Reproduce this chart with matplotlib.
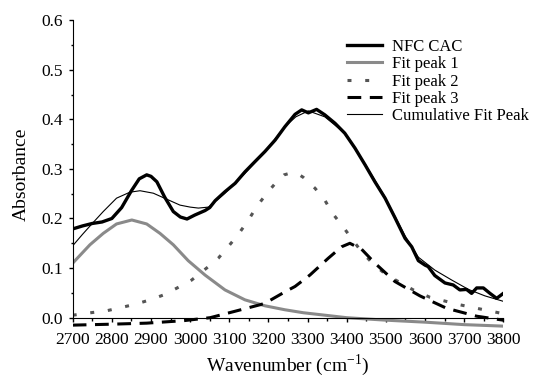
import numpy as np
import matplotlib
matplotlib.use('Agg')
import matplotlib.pyplot as plt
from matplotlib.ticker import MultipleLocator

plt.rcParams['font.family'] = ['Liberation Serif', 'DejaVu Serif']
plt.rcParams['mathtext.fontset'] = 'stix'

# NFC CAC spectrum
w_main = [2700, 2725, 2750, 2775, 2800, 2825, 2850, 2870, 2889, 2900, 2915, 2935,
          2957, 2975, 2992, 3012, 3038, 3050, 3064, 3089, 3115, 3140, 3166, 3191,
          3217, 3242, 3268, 3285, 3302, 3323, 3344, 3370, 3395, 3421, 3447, 3472,
          3498, 3523, 3549, 3566, 3583, 3600, 3608, 3625, 3651, 3672, 3689, 3706,
          3719, 3732, 3749, 3766, 3783, 3800]
a_main = [0.179, 0.185, 0.190, 0.193, 0.200, 0.222, 0.256, 0.280, 0.288, 0.285, 0.274, 0.243,
          0.214, 0.203, 0.199, 0.207, 0.216, 0.222, 0.236, 0.254, 0.271, 0.294, 0.315, 0.335,
          0.358, 0.385, 0.410, 0.419, 0.413, 0.420, 0.409, 0.392, 0.372, 0.342, 0.308, 0.274,
          0.241, 0.202, 0.160, 0.143, 0.115, 0.106, 0.103, 0.085, 0.070, 0.066, 0.056, 0.057,
          0.049, 0.060, 0.060, 0.049, 0.039, 0.049]

# fit peak 1
w_p1 = [2700, 2744, 2778, 2812, 2851, 2889, 2923, 2957, 2995, 3038, 3089, 3140,
        3191, 3242, 3289, 3400, 3500, 3600, 3700, 3800]
a_p1 = [0.110, 0.147, 0.170, 0.189, 0.197, 0.189, 0.170, 0.147, 0.115, 0.086, 0.056, 0.036,
        0.024, 0.016, 0.010, 0.000, -0.005, -0.009, -0.014, -0.017]

# fit peak 2
w_p2 = [2700, 2746, 2787, 2821, 2859, 2898, 2936, 2974, 3004, 3042, 3072, 3097, 3123,
        3149, 3170, 3196, 3221, 3240, 3258, 3275, 3289, 3319, 3344, 3364, 3391, 3412,
        3438, 3468, 3502, 3570, 3613, 3689, 3732, 3800]
a_p2 = [0.005, 0.010, 0.014, 0.020, 0.027, 0.036, 0.047, 0.063, 0.076, 0.100, 0.120, 0.143, 0.168,
        0.197, 0.224, 0.251, 0.274, 0.288, 0.292, 0.290, 0.283, 0.261, 0.237, 0.210, 0.183, 0.160,
        0.133, 0.108, 0.086, 0.056, 0.041, 0.026, 0.019, 0.008]

# fit peak 3
w_p3 = [2700, 2804, 2889, 2983, 3051, 3110, 3178, 3191, 3242, 3268, 3306, 3353, 3387,
        3408, 3438, 3472, 3523, 3587, 3655, 3732, 3800]
a_p3 = [-0.015, -0.013, -0.011, -0.006, 0.000, 0.012, 0.026, 0.029, 0.052, 0.063, 0.086, 0.120, 0.143,
        0.150, 0.138, 0.110, 0.073, 0.044, 0.019, 0.003, -0.005]

# cumulative fit
w_cum = [2700, 2725, 2750, 2778, 2812, 2846, 2872, 2906, 2940, 2974, 3000, 3021, 3047,
         3089, 3140, 3191, 3242, 3270, 3302, 3344, 3395, 3447, 3498, 3549, 3583, 3625,
         3668, 3711, 3753, 3800]
a_cum = [0.145, 0.168, 0.190, 0.214, 0.241, 0.253, 0.256, 0.251, 0.239, 0.227, 0.223, 0.221, 0.223,
         0.251, 0.291, 0.335, 0.385, 0.405, 0.417, 0.405, 0.372, 0.310, 0.243, 0.165, 0.122, 0.096,
         0.076, 0.057, 0.044, 0.033]

fig = plt.figure(figsize=(5.33, 3.78), dpi=100)
ax = fig.add_axes([0.1364, 0.1333, 0.8079, 0.8135])

ax.plot(w_main, a_main, color='black', lw=2.4, label='NFC CAC', zorder=5)
ax.plot(w_p1, a_p1, color='#8a8a8a', lw=2.2, label='Fit peak 1')
ax.plot(w_p2, a_p2, color='#555555', lw=2.2, dashes=(1.3, 4.5), label='Fit peak 2')
ax.plot(w_p3, a_p3, color='black', lw=2.2, dashes=(4.5, 2.8), label='Fit peak 3')
ax.plot(w_cum, a_cum, color='black', lw=0.8, label='Cumulative Fit Peak', zorder=6)

ax.set_xlim(2700, 3800)
ax.set_ylim(-0.02, 0.6)
ax.spines['top'].set_visible(False)
ax.spines['right'].set_visible(False)
ax.spines['bottom'].set_position(('data', 0))
ax.spines['left'].set_bounds(0, 0.6)

ax.xaxis.set_major_locator(MultipleLocator(100))
ax.xaxis.set_minor_locator(MultipleLocator(50))
ax.yaxis.set_minor_locator(MultipleLocator(0.05))
ax.set_yticks(np.arange(0, 0.61, 0.1))
ax.set_yticklabels(['%.1f' % v for v in np.arange(0, 0.61, 0.1)])
ax.tick_params(which='major', length=3, width=1, labelsize=12.5)
ax.tick_params(which='minor', length=1.8, width=1)
ax.tick_params(axis='x', which='major', pad=7.5)
ax.tick_params(axis='y', which='major', pad=4.3)

ax.set_xlabel('Wavenumber (cm$^{\\mathregular{-1}}$)', fontsize=14, labelpad=3)
ax.set_ylabel('Absorbance', fontsize=14, labelpad=8)

ax.legend(loc='upper left', bbox_to_anchor=(0.651, 0.897), bbox_transform=fig.transFigure,
          frameon=False, fontsize=12, handlelength=2.1, labelspacing=0.08,
          handletextpad=0.6, borderpad=0, borderaxespad=0)

fig.savefig('out.png', dpi=100)
